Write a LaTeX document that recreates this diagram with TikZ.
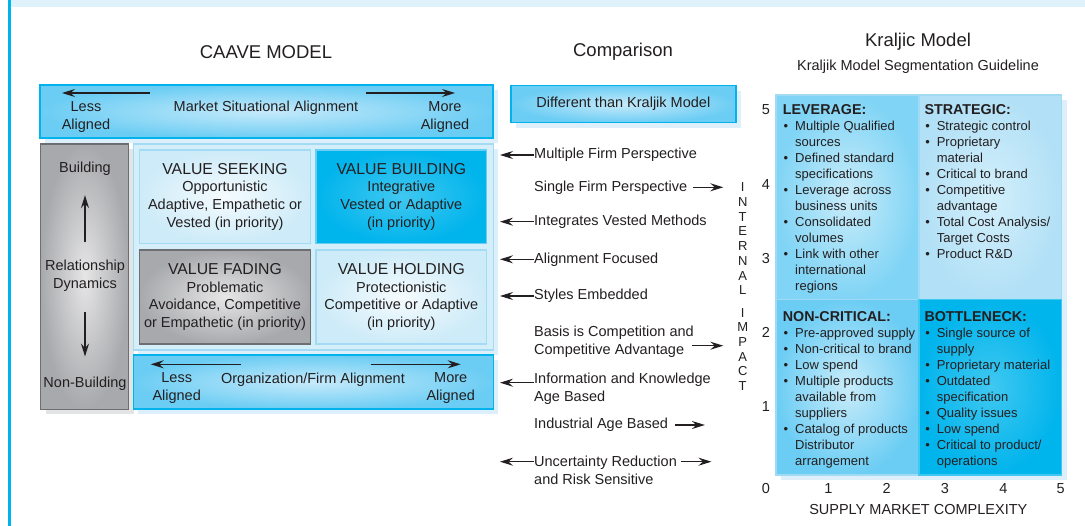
\documentclass[tikz,border=0pt]{standalone}
\usepackage{fontspec}
\setmainfont{Liberation Sans}
\usetikzlibrary{arrows.meta,positioning,calc}
\definecolor{ink}{HTML}{231F20}
\definecolor{rule}{HTML}{00B3EC}
\definecolor{band}{HTML}{DFF1FA}
\definecolor{barout}{HTML}{6CCDF4}
\definecolor{barin}{HTML}{C6EAFA}
\definecolor{paleout}{HTML}{CDEBF8}
\definecolor{palein}{HTML}{F5FBFE}
\definecolor{paleline}{HTML}{A3DBF4}
\definecolor{contfill}{HTML}{D5EFFA}
\definecolor{deepout}{HTML}{00B4EC}
\definecolor{deepin}{HTML}{40C8F1}
\definecolor{greyout}{HTML}{A8A9AC}
\definecolor{greyin}{HTML}{E6E6E7}
\definecolor{greyline}{HTML}{6D6E71}
\definecolor{greyshadow}{HTML}{E3E4E5}
\definecolor{blueshadow}{HTML}{DCEFFA}
\definecolor{levout}{HTML}{80D4F5}
\definecolor{levin}{HTML}{C9ECFA}
\definecolor{strout}{HTML}{B2E0F6}
\definecolor{strin}{HTML}{D2EFFB}
\definecolor{kline}{HTML}{A0DAF3}

\newcommand{\kbul}{\makebox[12.3pt][l]{\hspace{0.8pt}\textbullet}}
\newcommand{\kind}{\hspace*{12.3pt}}

\tikzset{
  panel/.style={anchor=north west, inner sep=0pt, outer sep=0pt},
  flatshade/.style={preaction={fill=#1, transform canvas={shift={(5pt,-5pt)}}}},
  bar/.style={panel, draw=rule, line width=1.6pt, inner color=barin, outer color=barout, flatshade=blueshadow},
  pale/.style={panel, draw=paleline, line width=1.4pt, inner color=palein, outer color=paleout},
  deep/.style={panel, draw=barout, line width=1.4pt, inner color=deepin, outer color=deepout},
  grey/.style={panel, draw=greyline, line width=1.4pt, inner color=greyin, outer color=greyout},
  kpanel/.style 2 args={panel, draw=kline, line width=1.4pt, inner color=#1, outer color=#2, flatshade=blueshadow},
  txt/.style={text=ink, inner sep=0pt, align=center, font=\fontsize{14.5}{18}\selectfont},
  ttl/.style={txt, font=\fontsize{18.5}{22}\selectfont},
  quad/.style={txt, font=\fontsize{14.5}{17.7}\selectfont},
  cmpt/.style={txt, anchor=west, align=left},
  ktxt/.style={text=ink, inner sep=0pt, align=left, anchor=north west, font=\fontsize{13}{16}\selectfont},
  arr/.style={-{Stealth[length=13pt,width=8pt,inset=4.5pt]}, line width=1.3pt, draw=ink},
}

\begin{document}
\begin{tikzpicture}[x=1pt,y=-1pt]
  \useasboundingbox (0,0) rectangle (1085,526);
  % page frame
  \fill[band] (11,0) rectangle (1085,7);
  \draw[rule, line width=3pt] (9.5,0) -- (9.5,526);

  % headings
  \node[ttl] (caave) at (266,52) {CAAVE MODEL};
  \node[ttl] (cmp) at (623,52) {Comparison};
  \node[ttl] (kral) at (918,42) {Kraljic Model};
  \node[txt] (guide) at (918,67) {Kraljik Model Segmentation Guideline};

  % CAAVE model
  \node[bar, minimum width=453pt, minimum height=53pt] (msa) at (40,85) {};
  \node[txt] (msaless) at (86,117) {Less\\Aligned};
  \node[txt] (msatxt) at (266,108) {Market Situational Alignment};
  \node[txt] (msamore) at (445,117) {More\\Aligned};
  \draw[arr] (msa.north west) ++(110,8) -- ++(-88,0);
  \draw[arr] (msa.north west) ++(326,8) -- ++(89,0);

  \node[grey, flatshade=greyshadow, minimum width=88pt, minimum height=265.3pt] (dyn) at (40.7,144) {};
  \node[txt] (bld) at (85,169) {Building};
  \node[txt] (rd) at (85,276) {Relationship\\Dynamics};
  \node[txt] (nbld) at (85,383.3) {Non-Building};
  \draw[arr, shorten <=18.5pt, shorten >=19.2pt] (rd.north) -- (bld.south);
  \draw[arr, shorten <=19.9pt, shorten >=19.8pt] (rd.south) -- (nbld.north);

  \node[panel, fill=contfill, draw=paleline, line width=1.4pt, flatshade=blueshadow,
        minimum width=360pt, minimum height=206pt] (cont) at (133.3,144) {};
  \node[pale, minimum width=171.4pt, minimum height=93.3pt] (seek) at (139.3,150) {};
  \node[deep, minimum width=170.7pt, minimum height=93.3pt] (build) at (316,150) {};
  \node[grey, minimum width=171.4pt, minimum height=94pt] (fade) at (139.3,250) {};
  \node[pale, minimum width=170.7pt, minimum height=94pt] (hold) at (316,250) {};

  \node[quad] (seektxt) at (seek.center) {{\fontsize{15.8}{17.7}\selectfont VALUE SEEKING}\\Opportunistic\\Adaptive, Empathetic or\\Vested (in priority)};
  \node[quad] (buildtxt) at (build.center) {{\fontsize{15.8}{17.7}\selectfont VALUE BUILDING}\\Integrative\\Vested or Adaptive\\(in priority)};
  \node[quad] (fadetxt) at (fade.center) {{\fontsize{15.8}{17.7}\selectfont VALUE FADING}\\Problematic\\Avoidance, Competitive\\or Empathetic (in priority)};
  \node[quad] (holdtxt) at (hold.center) {{\fontsize{15.8}{17.7}\selectfont VALUE HOLDING}\\Protectionistic\\Competitive or Adaptive\\(in priority)};

  \node[bar, minimum width=360pt, minimum height=54pt] (ofa) at (133.3,355.3) {};
  \node[txt] (ofaless) at (176.7,388.5) {Less\\Aligned};
  \node[txt] (ofatxt) at (313,380) {Organization/Firm Alignment};
  \node[txt] (ofamore) at (450.7,388.5) {More\\Aligned};
  \draw[arr] (ofa.north west) ++(107.4,9) -- ++(-90,0);
  \draw[arr] (ofa.north west) ++(237.4,9) -- ++(90,0);

  % comparison column
  \node[bar, minimum width=225.3pt, minimum height=37pt] (diff) at (510.7,85.7) {};
  \node[txt] (difftxt) at (diff.center) {Different than Kraljik Model};

  \node[cmpt] (mfp) at (534,155) {Multiple Firm Perspective};
  \node[cmpt] (sfp) at (534,187.3) {Single Firm Perspective};
  \node[cmpt] (ivm) at (534,221.7) {Integrates Vested Methods};
  \node[cmpt] (alf) at (534,259.3) {Alignment Focused};
  \node[cmpt] (sem) at (534,296) {Styles Embedded};
  \node[cmpt] (bcc) at (534,342) {Basis is Competition and\\Competitive Advantage};
  \node[cmpt] (ika) at (534,388.3) {Information and Knowledge\\Age Based};
  \node[cmpt] (iab) at (534,425) {Industrial Age Based};
  \node[cmpt] (urr) at (534,470) {Uncertainty Reduction\\and Risk Sensitive};

  \node[txt, anchor=north, font=\fontsize{13}{14.7}\selectfont] (imp) at (742.7,182.7)
    {I\\N\\T\\E\\R\\N\\A\\L\\[7.6pt]I\\M\\P\\A\\C\\T};
  \coordinate (impedge) at (723.3,0);

  \coordinate[above=5.6pt of ika.west] (ikaA);
  \coordinate[above=8.3pt of urr.west] (urrA);
  \coordinate[above=8.3pt of urr.east] (urrB);
  \coordinate[below=3.7pt of bcc.east] (bccA);
  \foreach \c in {mfp.west, ivm.west, alf.west, sem.west, ikaA, urrA}
    \draw[arr, shorten >=6.7pt] (\c) -- (\c -| cont.east);
  \draw[arr, shorten <=5pt] (sfp.east) -- (sfp.east -| impedge);
  \draw[arr] ([xshift=-2pt]bccA) -- (bccA -| impedge);
  \draw[arr] ([xshift=6.7pt]iab.east) -- ++(30,0);
  \draw[arr] ([xshift=4.4pt]urrB) -- ++(30,0);

  % Kraljic grid
  \node[kpanel={levin}{levout}, minimum width=143pt, minimum height=204.3pt] (lev) at (776,95) {};
  \node[kpanel={strin}{strout}, minimum width=142.7pt, minimum height=204.3pt] (strat) at (919,95) {};
  \node[kpanel={levin}{barout}, minimum width=143pt, minimum height=175.7pt] (ncrit) at (776,299.3) {};
  \node[kpanel={deepin}{deepout}, draw=deepin, minimum width=142.7pt, minimum height=175.7pt] (bneck) at (919,299.3) {};

  \node[ktxt] (levtxt) at (782.7,104.2) {{\fontsize{14.3}{16}\selectfont\bfseries LEVERAGE:}\\
    \kbul Multiple Qualified\\ \kind sources\\
    \kbul Defined standard\\ \kind specifications\\
    \kbul Leverage across\\ \kind business units\\
    \kbul Consolidated\\ \kind volumes\\
    \kbul Link with other\\ \kind international\\ \kind regions};
  \node[ktxt] (strtxt) at (924.3,104.2) {{\fontsize{14.3}{16}\selectfont\bfseries STRATEGIC:}\\
    \kbul Strategic control\\
    \kbul Proprietary\\ \kind material\\
    \kbul Critical to brand\\
    \kbul Competitive\\ \kind advantage\\
    \kbul Total Cost Analysis/\\ \kind Target Costs\\
    \kbul Product R\&D};
  \node[ktxt] (nctxt) at (782.7,310.9) {{\fontsize{14.3}{16}\selectfont\bfseries NON-CRITICAL:}\\
    \kbul Pre-approved supply\\
    \kbul Non-critical to brand\\
    \kbul Low spend\\
    \kbul Multiple products\\ \kind available from\\ \kind suppliers\\
    \kbul Catalog of products\\ \kind Distributor\\ \kind arrangement};
  \node[ktxt] (bntxt) at (924.3,310.9) {{\fontsize{14.3}{16}\selectfont\bfseries BOTTLENECK:}\\
    \kbul Single source of\\ \kind supply\\
    \kbul Proprietary material\\
    \kbul Outdated\\ \kind specification\\
    \kbul Quality issues\\
    \kbul Low spend\\
    \kbul Critical to product/\\ \kind operations};

  % axes
  \foreach \v/\y in {5/109.3, 4/185, 3/258.3, 2/332.7, 1/406.7, 0/488.3}
    \node[txt] (yl\v) at (766,\y) {\v};
  \foreach \v/\x in {1/828.3, 2/886.7, 3/945, 4/1003.3, 5/1060.7}
    \node[txt] (xl\v) at (\x,488.3) {\v};
  \node[txt] (smc) at (918.3,510) {SUPPLY MARKET COMPLEXITY};
\end{tikzpicture}
\end{document}
